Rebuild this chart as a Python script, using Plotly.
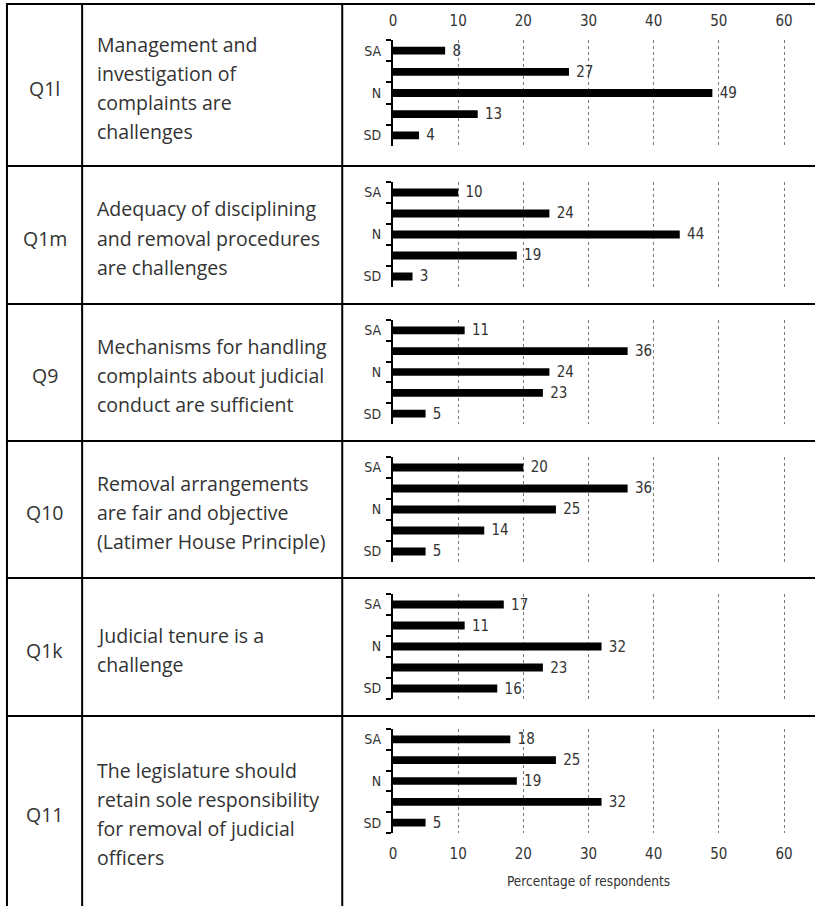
import plotly.graph_objects as go

# ---------------- data ----------------
categories = ["SA", "A", "N", "D", "SD"]
tick_labels = ["SA", "", "N", "", "SD"]
question_ids = ["Q1l", "Q1m", "Q9", "Q10", "Q1k", "Q11"]
question_texts = [
    ["Management and", "investigation of", "complaints are", "challenges"],
    ["Adequacy of disciplining", "and removal procedures", "are challenges"],
    ["Mechanisms for handling", "complaints about judicial", "conduct are sufficient"],
    ["Removal arrangements", "are fair and objective", "(Latimer House Principle)"],
    ["Judicial tenure is a", "challenge"],
    ["The legislature should", "retain sole responsibility", "for removal of judicial", "officers"],
]
q1l = [8, 27, 49, 13, 4]
q1m = [10, 24, 44, 19, 3]
q9 = [11, 36, 24, 23, 5]
q10 = [20, 36, 25, 14, 5]
q1k = [17, 11, 32, 23, 16]
q11 = [18, 25, 19, 32, 5]
series = [q1l, q1m, q9, q10, q1k, q11]
x_ticks = [0, 10, 20, 30, 40, 50, 60]
x_title = "Percentage of respondents"

# ---------------- layout geometry (pixels) ----------------
W, H = 820, 906
row_lines = [4, 166, 304, 441, 578, 716]
row_bounds = [(4, 166), (166, 304), (304, 441), (441, 578), (578, 716), (716, 906)]
col_lines = [3, 79, 342]
panel_px = [(40, 146), (182, 287), (320, 424), (457, 562), (594, 699), (729, 833)]
x0_px, px_per_unit = 393.3, 6.59
x_max = 60.5
x1_px = x0_px + x_max * px_per_unit

TEXT_COLOR = "#333333"
BODY_FONT = "Open Sans"
AXIS_FONT = "Liberation Sans Narrow, DejaVu Sans Condensed, Open Sans"


def py(p):
    return 1 - p / H


def px(p):
    return p / W


fig = go.Figure()
layout_axes = {}
for i, vals in enumerate(series):
    n = i + 1
    xa_name = "xaxis" if n == 1 else f"xaxis{n}"
    ya_name = "yaxis" if n == 1 else f"yaxis{n}"
    xref = "x" if n == 1 else f"x{n}"
    yref = "y" if n == 1 else f"y{n}"
    fig.add_trace(go.Bar(
        x=vals, y=categories, orientation="h",
        marker=dict(color="black", line=dict(width=0)),
        width=0.37,
        texttemplate="\u00a0%{x}", textposition="outside",
        textfont=dict(family=AXIS_FONT, size=15, color=TEXT_COLOR),
        constraintext="none", cliponaxis=False,
        xaxis=xref, yaxis=yref, showlegend=False, hoverinfo="skip",
    ))
    top, bot = panel_px[i]
    xa = dict(
        domain=[px(x0_px), px(x1_px)], range=[0, x_max],
        tickmode="array", tickvals=x_ticks,
        showgrid=True, gridcolor="#7a7a7a", griddash="dot", gridwidth=1,
        zeroline=False, showline=False, ticks="",
        anchor=yref, fixedrange=True,
        tickfont=dict(family=AXIS_FONT, size=15, color=TEXT_COLOR),
        showticklabels=(n == 1 or n == 6),
        side="top" if n == 1 else "bottom",
        ticklabelstandoff=10,
    )
    ya = dict(
        domain=[py(bot), py(top)], type="category",
        categoryorder="array", categoryarray=categories,
        autorange="reversed",
        tickmode="array", tickvals=categories, ticktext=tick_labels,
        tickson="boundaries", ticks="outside", ticklen=5, tickwidth=2,
        tickcolor="black", showline=True, linecolor="black", linewidth=2,
        showgrid=False, zeroline=False, anchor=xref, fixedrange=True,
        tickfont=dict(family=AXIS_FONT, size=14, color=TEXT_COLOR),
        ticklabelstandoff=7,
    )
    layout_axes[xa_name] = xa
    layout_axes[ya_name] = ya

fig.update_layout(**layout_axes)

# table lines
shapes = []
for yl in row_lines:
    shapes.append(dict(type="line", xref="paper", yref="paper",
                       x0=px(col_lines[0] - 1), x1=1, y0=py(yl), y1=py(yl),
                       line=dict(color="black", width=2)))
for xl in col_lines:
    shapes.append(dict(type="line", xref="paper", yref="paper",
                       x0=px(xl), x1=px(xl), y0=py(row_lines[0] - 1), y1=0,
                       line=dict(color="black", width=2)))

annotations = []
LINE_SP = 29
for i, (qid, lines) in enumerate(zip(question_ids, question_texts)):
    r0, r1 = row_bounds[i]
    cy = (r0 + r1) / 2 + 3
    annotations.append(dict(
        x=px((col_lines[0] + col_lines[1]) / 2), y=py(cy), xref="paper", yref="paper",
        text=qid, showarrow=False, xanchor="center", yanchor="middle",
        font=dict(family=BODY_FONT, size=19.5, color=TEXT_COLOR)))
    nl = len(lines)
    for k, ln in enumerate(lines):
        ly = cy + (k - (nl - 1) / 2) * LINE_SP
        annotations.append(dict(
            x=px(92), y=py(ly), xref="paper", yref="paper",
            text=ln, showarrow=False, xanchor="left", yanchor="middle",
            font=dict(family=BODY_FONT, size=19.5, color=TEXT_COLOR)))

annotations.append(dict(
    x=px(x0_px + 30 * px_per_unit), y=py(881), xref="paper", yref="paper",
    text=x_title, showarrow=False, xanchor="center", yanchor="middle",
    font=dict(family=AXIS_FONT, size=13.5, color=TEXT_COLOR)))

fig.update_layout(
    width=W, height=H, margin=dict(l=0, r=0, t=0, b=0),
    paper_bgcolor="white", plot_bgcolor="white",
    shapes=shapes, annotations=annotations, showlegend=False,
)

fig.write_html("out.html",
               config={"displayModeBar": False, "staticPlot": True},
               post_script="document.body.style.margin='0px';document.body.style.padding='0px';")
